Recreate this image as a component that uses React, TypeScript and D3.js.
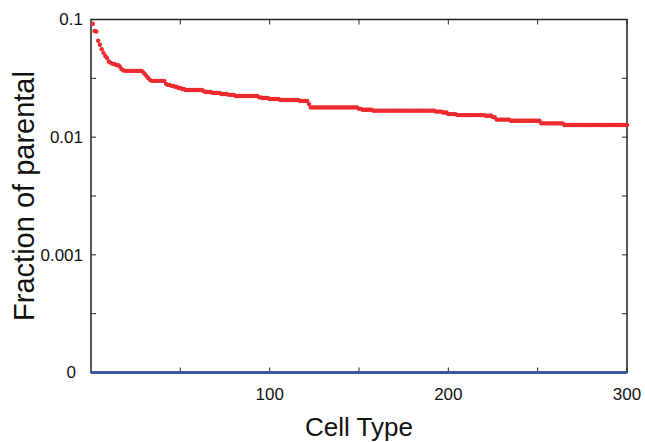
import React from "react";
import * as d3 from "d3";

// Fraction of parental for each ranked cell type (1..300)
const fractions: number[] = [
  0.092, 0.080, 0.079, 0.066, 0.061, 0.056, 0.052, 0.049, 0.047, 0.044,
  0.043, 0.042, 0.042, 0.041, 0.041, 0.040, 0.038, 0.037, 0.0366, 0.0366,
  0.0366, 0.0366, 0.0366, 0.0366, 0.0366, 0.0366, 0.0366, 0.0366, 0.036, 0.0346,
  0.0332, 0.0319, 0.0307, 0.0301, 0.0301, 0.0301, 0.0301, 0.0301, 0.0301, 0.0301,
  0.0301, 0.0284, 0.0278, 0.0278, 0.0273, 0.0273, 0.0268, 0.0268, 0.0262, 0.0262,
  0.0257, 0.0257, 0.0252, 0.0252, 0.0252, 0.0252, 0.0252, 0.0252, 0.0252, 0.0252,
  0.0252, 0.0252, 0.0247, 0.0242, 0.0242, 0.0242, 0.0242, 0.0238, 0.0238, 0.0238,
  0.0238, 0.0238, 0.0233, 0.0233, 0.0233, 0.0233, 0.0229, 0.0229, 0.0229, 0.0229,
  0.0224, 0.0224, 0.0224, 0.0224, 0.0224, 0.0224, 0.0224, 0.0224, 0.0224, 0.0224,
  0.0224, 0.0224, 0.0224, 0.0218, 0.0218, 0.0215, 0.0215, 0.0215, 0.0215, 0.0211,
  0.0211, 0.0211, 0.0211, 0.0211, 0.0211, 0.0207, 0.0207, 0.0207, 0.0207, 0.0207,
  0.0207, 0.0207, 0.0207, 0.0207, 0.0207, 0.0207, 0.0203, 0.0203, 0.0203, 0.0203,
  0.0203, 0.0191, 0.0179, 0.0179, 0.0179, 0.0179, 0.0179, 0.0179, 0.0179, 0.0179,
  0.0179, 0.0179, 0.0179, 0.0179, 0.0179, 0.0179, 0.0179, 0.0179, 0.0179, 0.0179,
  0.0179, 0.0179, 0.0179, 0.0179, 0.0179, 0.0179, 0.0179, 0.0179, 0.0179, 0.0174,
  0.0174, 0.0171, 0.0171, 0.0171, 0.0171, 0.0171, 0.0171, 0.0168, 0.0168, 0.0168,
  0.0168, 0.0168, 0.0168, 0.0168, 0.0168, 0.0168, 0.0168, 0.0168, 0.0168, 0.0168,
  0.0168, 0.0168, 0.0168, 0.0168, 0.0168, 0.0168, 0.0168, 0.0168, 0.0168, 0.0168,
  0.0168, 0.0168, 0.0168, 0.0168, 0.0168, 0.0168, 0.0168, 0.0168, 0.0168, 0.0168,
  0.0168, 0.0168, 0.0165, 0.0165, 0.0165, 0.0165, 0.0162, 0.0162, 0.0162, 0.0157,
  0.0157, 0.0157, 0.0157, 0.0157, 0.0154, 0.0154, 0.0154, 0.0154, 0.0154, 0.0154,
  0.0154, 0.0154, 0.0154, 0.0154, 0.0154, 0.0154, 0.0154, 0.0154, 0.0154, 0.0154,
  0.0152, 0.0152, 0.0152, 0.0152, 0.0148, 0.0148, 0.0141, 0.0141, 0.0141, 0.0141,
  0.0141, 0.0141, 0.0141, 0.0141, 0.0138, 0.0138, 0.0138, 0.0138, 0.0138, 0.0138,
  0.0138, 0.0138, 0.0138, 0.0138, 0.0138, 0.0138, 0.0138, 0.0138, 0.0138, 0.0138,
  0.0138, 0.0131, 0.0131, 0.0131, 0.0131, 0.0131, 0.0131, 0.0131, 0.0131, 0.0131,
  0.0131, 0.0131, 0.0131, 0.0131, 0.0127, 0.0127, 0.0127, 0.0127, 0.0127, 0.0127,
  0.0127, 0.0127, 0.0127, 0.0127, 0.0127, 0.0127, 0.0127, 0.0127, 0.0127, 0.0127,
  0.0127, 0.0127, 0.0127, 0.0127, 0.0127, 0.0127, 0.0127, 0.0127, 0.0127, 0.0127,
  0.0127, 0.0127, 0.0127, 0.0127, 0.0127, 0.0127, 0.0127, 0.0127, 0.0127, 0.0127,
];

const xDomain: [number, number] = [0, 300];
const xMajorTicks = [50, 100, 150, 200, 250, 300];
const xTickLabels = [100, 200, 300];
const yDomain: [number, number] = [0.0001, 0.1];
const yMajorTicks = [0.1, 0.01, 0.001, 0.0001];
const yTickLabels = ["0.1", "0.01", "0.001", "0"];
const yMinorTicks = [0.0316228, 0.00316228, 0.000316228];
const xTitle = "Cell Type";
const yTitle = "Fraction of parental";

const W = 645;
const H = 442;
const left = 91;
const right = 627;
const top = 19.5;
const bottom = 372.5;
const FONT = "Liberation Sans, Arial, sans-serif";

export default function App() {
  const x = d3.scaleLinear().domain(xDomain).range([left, right]);
  const y = d3.scaleLog().domain(yDomain).range([bottom, top]);
  const tickLen = 5;
  const axisColor = "#222";
  const red = "#ee2a2e";
  const blue = "#3a57a6";

  return (
    <svg
      width={W}
      height={H}
      style={{ position: "absolute", left: 0, top: 0, background: "#fff" }}
      fontFamily={FONT}
    >
      {/* x ticks (bottom & top, inward) */}
      {xMajorTicks.map((t) => (
        <g key={"xt" + t}>
          <line x1={x(t)} x2={x(t)} y1={bottom} y2={bottom - tickLen} stroke={axisColor} strokeWidth={1} />
          <line x1={x(t)} x2={x(t)} y1={top} y2={top + tickLen} stroke={axisColor} strokeWidth={1} />
        </g>
      ))}
      {/* y ticks (left & right, inward) */}
      {[...yMajorTicks, ...yMinorTicks].map((t) => (
        <g key={"yt" + t}>
          <line x1={left} x2={left + tickLen} y1={y(t)} y2={y(t)} stroke={axisColor} strokeWidth={1} />
          <line x1={right} x2={right - tickLen} y1={y(t)} y2={y(t)} stroke={axisColor} strokeWidth={1} />
        </g>
      ))}
      {/* frame */}
      <rect x={left} y={top} width={right - left} height={bottom - top} fill="none" stroke={axisColor} strokeWidth={1.5} />

      {/* red points */}
      {fractions.map((v, i) => (
        <circle key={"p" + i} cx={x(i + 1)} cy={y(v)} r={2.2} fill={red} />
      ))}

      {/* blue baseline series at 0 */}
      <line x1={x(xDomain[0])} x2={x(xDomain[1])} y1={y(yDomain[0])} y2={y(yDomain[0])} stroke={blue} strokeWidth={3} />

      {/* x tick labels */}
      {xTickLabels.map((t) => (
        <text key={"xl" + t} x={x(t)} y={400} textAnchor="middle" fontSize={17} fill="#111">
          {t}
        </text>
      ))}
      {/* y tick labels */}
      {yMajorTicks.map((t, i) => (
        <text
          key={"yl" + t}
          x={i === 3 ? 76 : 83}
          y={y(t)}
          dy="0.35em"
          textAnchor="end"
          fontSize={17}
          fill="#111"
        >
          {yTickLabels[i]}
        </text>
      ))}

      {/* axis titles */}
      <text x={(left + right) / 2} y={436} textAnchor="middle" fontSize={26} fill="#111">
        {xTitle}
      </text>
      <text
        transform={`translate(34,${(top + bottom) / 2}) rotate(-90)`}
        textAnchor="middle"
        fontSize={29}
        fill="#111"
      >
        {yTitle}
      </text>
    </svg>
  );
}
